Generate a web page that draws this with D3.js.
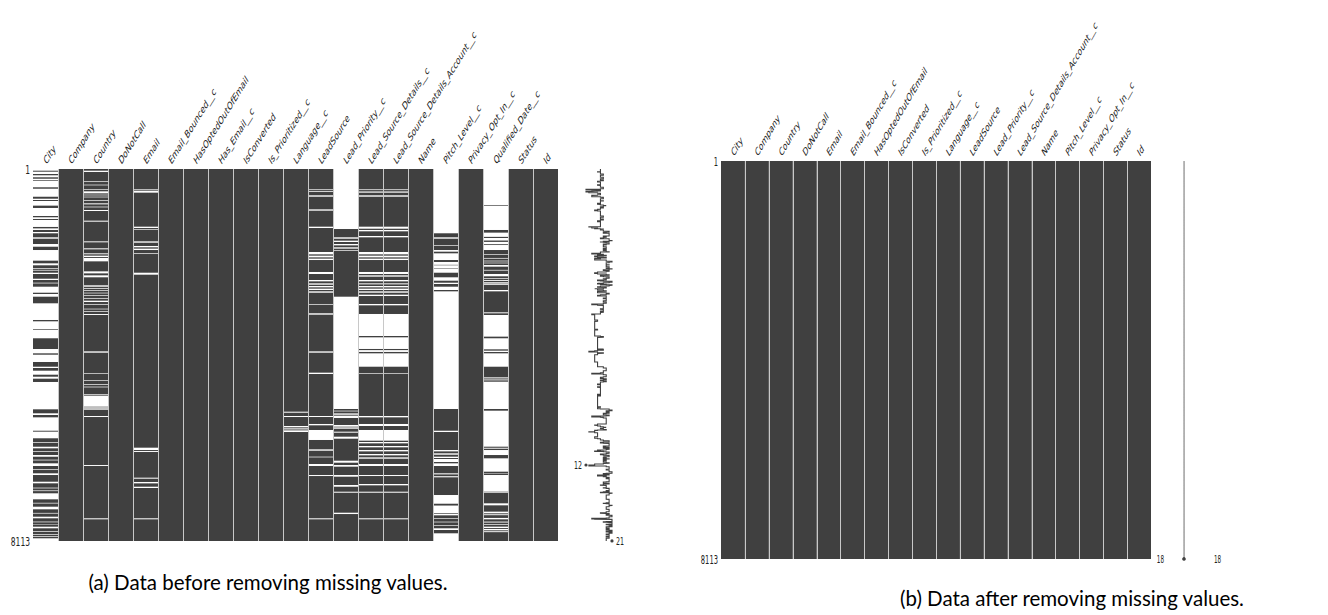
<!DOCTYPE html>
<html>
<head>
<meta charset="utf-8">
<script src="https://cdn.jsdelivr.net/npm/d3@7"></script>
<style>
  body { margin: 0; background: #fff; }
  svg text { font-family: "DejaVu Sans", sans-serif; fill: #222; }
  .caption { font-family: Lato, sans-serif; fill: #000; }
</style>
</head>
<body>
<div id="chart"></div>
<script>
var nRows = 8113;

var columnsBefore = [
  "City", "Company", "Country", "DoNotCall", "Email", "Email_Bounced__c",
  "HasOptedOutOfEmail", "Has_Email__c", "IsConverted", "Is_Prioritized__c",
  "Language__c", "LeadSource", "Lead_Priority__c", "Lead_Source_Details__c",
  "Lead_Source_Details_Account__c", "Name", "Pitch_Level__c",
  "Privacy_Opt_In__c", "Qualified_Date__c", "Status", "Id"
];

// missing row ranges [from, to) for each column, read off the matrix
var missingBefore = [
  // City
  [[0,37],[59,109],[137,181],[212,240],[255,399],[430,605],[648,676],[698,799],[850,1025],[1053,1090],
   [1112,1264],[1295,1330],[1374,1402],[1490,1520],[1636,1695],[1767,1999],[2057,2100],[2160,2175],[2200,2215],
   [2262,2290],[2393,2421],[2480,2495],[2567,2698],[2726,2785],[2929,3293],[3322,3496],[3511,3692],[3926,4020],
   [4050,4209],[4312,4340],[4399,4486],[4530,4573],[4645,5241],[5328,5365],[5416,5708],[5729,5873],[5960,5975],
   [6057,6092],[6150,6165],[6238,6275],[6340,6355],[6419,6477],[6550,6565],[6637,6674],[6820,6855],[6950,6965],
   [7010,7025],[7073,7204],[7280,7295],[7365,7422],[7500,7515],[7583,7618],[7690,7705],[7750,7760],[7801,7836],
   [7900,7915],[7960,7975],[8010,8025],[8054,8113]],
  // Company
  [],
  // Country
  [[37,65],[269,284],[342,356],[444,458],[487,531],[560,574],[604,618],[676,691],[749,771],[821,836],[894,916],
   [1127,1149],[1578,1599],[1730,1752],[1839,1860],[1890,1920],[1940,2014],[2232,2276],[2319,2362],[2537,2567],
   [2595,2611],[2639,2654],[2698,2712],[2755,2770],[2813,2828],[2872,2901],[2944,2959],[3047,3061],[3097,3112],
   [3163,3184],[3977,4006],[4457,4471],[4602,4616],[4689,4704],[4747,4762],[4914,4936],[4951,5184],[5198,5227],
   [5241,5256],[5387,5409],[6456,6477],[7618,7640]],
  // DoNotCall
  [],
  // Email
  [[444,465],[480,516],[1258,1287],[1316,1330],[1578,1607],[1679,1708],[1737,1767],[1839,1854],[2262,2305],
   [6078,6129],[6151,6172],[6732,6754],[6826,6856],[6929,6957],[7618,7640]],
  [], [], [], [], [],
  // Language__c
  [[5293,5315],[5387,5409],[5605,5634],[5656,5680],[5700,5736]],
  // LeadSource
  [[444,460],[485,502],[574,604],[880,909],[1258,1287],[1810,1854],[1868,1883],[1897,1927],[1955,1985],
   [2246,2290],[2421,2450],[2494,2523],[2552,2581],[2610,2639],[2668,2698],[2944,2959],[3147,3177],[3977,4006],
   [4442,4471],[5387,5409],[5561,5590],[5692,5910],[6114,6144],[6274,6289],[6434,6477],[6674,6696],[7618,7640]],
  // Lead_Priority__c
  [[0,1309],[1490,1520],[1563,1592],[1636,1665],[1708,1737],[1767,1782],[2785,5234],[5271,5286],[5330,5359],
   [5380,5430],[5583,5620],[5635,5664],[5729,5751],[5838,5882],[6362,6405],[6456,6492],[6674,6710],[6892,6929],
   [7038,7060],[7496,7525]],
  // Lead_Source_Details__c
  [[444,460],[490,516],[574,604],[1258,1302],[1330,1359],[1461,1490],[1810,1854],[1868,1883],[1897,1927],
   [1955,1985],[2246,2290],[2319,2348],[2421,2450],[2494,2516],[2552,2581],[2610,2639],[2668,2698],[2741,2770],
   [2944,2973],[3162,3642],[3671,3925],[3950,3990],[4020,4312],[4457,4471],[5387,5416],[5561,5605],[5692,5925],
   [5954,5983],[6041,6070],[6129,6158],[6216,6245],[6289,6318],[6434,6477],[6674,6696],[6870,6899],[7038,7060],
   [7618,7640]],
  // Lead_Source_Details_Account__c
  [[444,460],[490,516],[574,604],[1258,1302],[1330,1359],[1461,1490],[1810,1854],[1868,1883],[1897,1927],
   [1955,1985],[2246,2290],[2319,2348],[2421,2450],[2494,2516],[2552,2581],[2610,2639],[2668,2698],[2741,2770],
   [2944,2973],[3162,3642],[3671,3925],[3950,3990],[4020,4312],[4457,4471],[5387,5416],[5561,5605],[5692,5925],
   [5954,5983],[6041,6070],[6129,6158],[6216,6245],[6289,6318],[6434,6477],[6674,6696],[6870,6899],[7038,7060],
   [7618,7640]],
  // Name
  [],
  // Pitch_Level__c
  [[0,1402],[1490,1520],[1665,1679],[1767,1803],[1839,1985],[2028,2090],[2100,2170],[2180,2262],[2362,2436],
   [2480,2508],[2567,2639],[2668,5234],[5708,5736],[6129,6158],[6201,6231],[6274,6303],[6325,6390],[6419,6477],
   [6637,6660],[6700,6724],[7110,7300],[7340,7509],[7524,7553],[7618,7632],[7692,7706],[7764,7778],[7836,7873],
   [7945,8113]],
  // Privacy_Opt_In__c
  [],
  // Qualified_Date__c
  [[0,785],[800,1330],[1388,1480],[1505,1560],[1590,1640],[1658,1767],[1854,1868],[1940,1955],[1999,2014],
   [2043,2057],[2094,2130],[2200,2215],[2290,2340],[2380,2395],[2420,2440],[2470,2494],[2500,2525],[2639,2668],
   [3126,3147],[3184,3656],[3692,3933],[3962,3991],[4020,4312],[4544,4567],[4590,4610],[4639,5234],[5271,6056],
   [6080,6100],[6129,6238],[6310,6601],[6640,6650],[6674,7038],[7050,7065],[7291,7335],[7473,7509],[7530,7550],
   [7610,7640],[7690,7710],[7745,7760],[7800,7830],[7850,7880],[7900,7920]],
  // Status, Id
  [], []
];

var columnsAfter = [
  "City", "Company", "Country", "DoNotCall", "Email", "Email_Bounced__c",
  "HasOptedOutOfEmail", "IsConverted", "Is_Prioritized__c", "Language__c",
  "LeadSource", "Lead_Priority__c", "Lead_Source_Details_Account__c", "Name",
  "Pitch_Level__c", "Privacy_Opt_In__c", "Status", "Id"
];
var missingAfter = columnsAfter.map(function () { return []; });

// sparkline end labels: [value, row]
var sparkLabelsBefore = [[12, 6456], [21, 8112]];
var sparkDomainBefore = [12, 21];
var sparkLabelsAfter = [[18, 8112], [18, 8112]];
var sparkDomainAfter = [18, 18];

var rowTickLabels = ["1", "8113"];
var captions = ["(a) Data before removing missing values.", "(b) Data after removing missing values."];

var W = 1328, H = 615;
var dark = "#404040";

var svg = d3.select("#chart").append("svg")
  .attr("width", W).attr("height", H);

function drawMatrix(opts) {
  var g = svg.append("g");

  var x = d3.scaleBand().domain(opts.columns).range([opts.x0, opts.x1]);
  var y = d3.scaleLinear().domain([0, nRows]).range([opts.y0, opts.y1]);

  // one column = dark bar with white gaps where values are missing
  var cols = g.selectAll("g.col")
    .data(opts.columns.map(function (c, i) { return { name: c, missing: opts.missing[i] }; }))
    .join("g").attr("class", "col");

  cols.append("rect")
    .attr("x", function (d) { return x(d.name); })
    .attr("y", y(0))
    .attr("width", x.bandwidth())
    .attr("height", y(nRows) - y(0))
    .attr("fill", dark);

  cols.selectAll("rect.gap")
    .data(function (d) { return d.missing.map(function (m) { return { name: d.name, m: m }; }); })
    .join("rect").attr("class", "gap")
    .attr("x", function (d) { return x(d.name); })
    .attr("y", function (d) { return y(d.m[0]); })
    .attr("width", x.bandwidth())
    .attr("height", function (d) { return y(d.m[1]) - y(d.m[0]); })
    .attr("fill", "#fff");

  // column separators
  g.selectAll("line.sep")
    .data(opts.columns.slice(1))
    .join("line").attr("class", "sep")
    .attr("x1", function (d) { return Math.round(x(d)) + 0.5; })
    .attr("x2", function (d) { return Math.round(x(d)) + 0.5; })
    .attr("y1", y(0)).attr("y2", y(nRows))
    .attr("stroke", "#c8c8c8").attr("stroke-width", 1);

  // rotated column labels (figure was squeezed horizontally)
  g.selectAll("text.collab")
    .data(opts.columns)
    .join("text").attr("class", "collab")
    .attr("transform", function (d) {
      return "translate(" + (x(d) + x.bandwidth() / 2 + 1) + "," + (opts.y0 - 4) + ") scale(" + opts.sx + ",1) rotate(-45)";
    })
    .attr("font-size", opts.fontSize)
    .text(function (d) { return d; });

  // row labels
  g.selectAll("text.rowlab")
    .data(rowTickLabels)
    .join("text").attr("class", "rowlab")
    .attr("transform", function (d, i) {
      return "translate(" + (opts.x0 - 3) + "," + (i === 0 ? opts.y0 + 1 : opts.y1 + 1) + ") scale(" + opts.rowSx + ",1)";
    })
    .attr("text-anchor", "end")
    .attr("dy", "0.35em")
    .attr("font-size", opts.fontSize + 1)
    .text(function (d) { return d; });

  // sparkline of row completeness
  var diff = new Array(nRows + 1).fill(0);
  opts.missing.forEach(function (ranges) {
    ranges.forEach(function (m) {
      diff[m[0]] -= 1;
      diff[Math.min(m[1], nRows)] += 1;
    });
  });
  var completeness = [];
  var run = opts.columns.length;
  for (var i = 0; i < nRows; i++) {
    run += diff[i];
    completeness.push(run);
  }

  var sx = d3.scaleLinear().domain(opts.sparkDomain).range(opts.sparkRange).clamp(true);
  var sxf = function (v) {
    return opts.sparkDomain[0] === opts.sparkDomain[1]
      ? (opts.sparkRange[0] + opts.sparkRange[1]) / 2 : sx(v);
  };

  g.append("path")
    .datum(completeness)
    .attr("fill", "none")
    .attr("stroke", dark)
    .attr("stroke-width", opts.sparkWidth)
    .attr("d", d3.line()
      .x(function (d) { return sxf(d); })
      .y(function (d, i) { return y(i + 0.5); }));

  g.selectAll("circle.spk")
    .data(opts.sparkLabels)
    .join("circle").attr("class", "spk")
    .attr("cx", function (d) { return sxf(d[0]); })
    .attr("cy", function (d) { return y(d[1]); })
    .attr("r", 1.6)
    .attr("fill", dark);

  g.selectAll("text.spklab")
    .data(opts.sparkLabels)
    .join("text").attr("class", "spklab")
    .attr("transform", function (d, i) {
      var px = sxf(d[0]) + opts.sparkOffsets[i];
      return "translate(" + px + "," + y(d[1]) + ") scale(" + opts.rowSx + ",1)";
    })
    .attr("text-anchor", function (d, i) { return i === 0 ? "end" : "start"; })
    .attr("dy", "0.35em")
    .attr("font-size", opts.fontSize - 1)
    .text(function (d) { return d[0]; });
}

drawMatrix({
  columns: columnsBefore, missing: missingBefore,
  x0: 33, x1: 558, y0: 169, y1: 541,
  sx: 0.62, rowSx: 0.62, fontSize: 11.2, sparkWidth: 1.1,
  sparkDomain: sparkDomainBefore, sparkRange: [586, 612],
  sparkLabels: sparkLabelsBefore, sparkOffsets: [-4, 4]
});

drawMatrix({
  columns: columnsAfter, missing: missingAfter,
  x0: 721, x1: 1151, y0: 161, y1: 559,
  sx: 0.59, rowSx: 0.55, fontSize: 11.3, sparkWidth: 0.8,
  sparkDomain: sparkDomainAfter, sparkRange: [1174, 1194],
  sparkLabels: sparkLabelsAfter, sparkOffsets: [-20, 30]
});

svg.selectAll("text.caption")
  .data(captions)
  .join("text").attr("class", "caption")
  .attr("x", function (d, i) { return i === 0 ? 268 : 1072; })
  .attr("y", function (d, i) { return i === 0 ? 590 : 606; })
  .attr("text-anchor", "middle")
  .attr("font-size", 20.5)
  .text(function (d) { return d; });
</script>
</body>
</html>
